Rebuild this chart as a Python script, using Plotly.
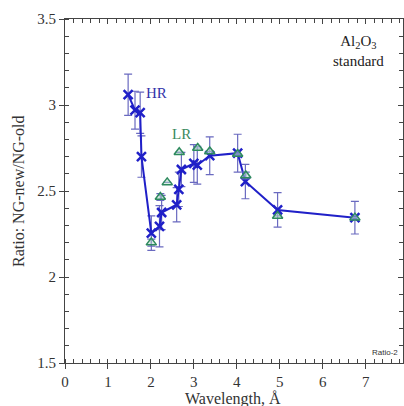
import plotly.graph_objects as go

hr_x = [1.47, 1.63, 1.75, 1.78, 2.01, 2.20, 2.25, 2.60, 2.65, 2.71, 3.00, 3.08, 3.37, 4.02, 4.20, 4.95, 6.75]
hr_y = [3.06, 2.97, 2.955, 2.70, 2.255, 2.295, 2.375, 2.42, 2.51, 2.625, 2.66, 2.65, 2.705, 2.72, 2.555, 2.39, 2.345]
hr_err = [0.12, 0.11, 0.12, 0.12, 0.10, 0.12, 0.10, 0.10, 0.10, 0.10, 0.11, 0.11, 0.11, 0.11, 0.10, 0.10, 0.095]

lr_x = [2.01, 2.22, 2.38, 2.66, 3.09, 3.37, 4.02, 4.21, 4.95, 6.75]
lr_y = [2.20, 2.465, 2.55, 2.725, 2.75, 2.73, 2.715, 2.59, 2.355, 2.345]
lr_err = [0.02, 0.02, 0.0, 0.0, 0.0, 0.0, 0.0, 0.02, 0.0, 0.0]

x_ticks = [0, 1, 2, 3, 4, 5, 6, 7]
y_ticks = [1.5, 2, 2.5, 3, 3.5]
y_tick_labels = ["1.5", "2", "2.5", "3", "3.5"]

serif = "Liberation Serif"
err_color = "#6a6ac0"

fig = go.Figure()
fig.add_trace(go.Scatter(
    x=hr_x, y=hr_y, mode="lines+markers",
    line=dict(color="#2020c8", width=2),
    marker=dict(symbol="x-thin-open", size=9, color="#2020c8", line=dict(width=2.5, color="#2020c8")),
    error_y=dict(type="data", array=hr_err, color=err_color, thickness=1.2, width=4),
    showlegend=False,
))
fig.add_trace(go.Scatter(
    x=lr_x, y=lr_y, mode="markers",
    marker=dict(symbol="triangle-up", size=9, color="rgba(180,220,200,0.5)", line=dict(width=1.5, color="#2e8a5e")),
    error_y=dict(type="data", array=lr_err, color=err_color, thickness=1.2, width=4),
    showlegend=False,
))
# invisible trace for top/right mirrored inside ticks
fig.add_trace(go.Scatter(x=[0], y=[1.5], xaxis="x2", yaxis="y2", mode="markers",
                         marker=dict(opacity=0), showlegend=False, hoverinfo="skip"))

xr = [0, 7.87]
yr = [1.5, 3.5]
axis_common = dict(showgrid=False, zeroline=False, showline=True, linecolor="#444", linewidth=1.2)

fig.update_layout(
    width=404, height=406,
    margin=dict(l=65, r=1, t=19, b=43),
    paper_bgcolor="white", plot_bgcolor="white",
    font=dict(family=serif, color="#333", size=14),
    xaxis=dict(range=xr, tickvals=x_ticks, ticks="outside", ticklen=5, tickcolor="#444",
               tickfont=dict(family=serif, size=15, color="#333"),
               minor=dict(dtick=0.2, ticks="inside", ticklen=4, tickcolor="#444"),
               **axis_common),
    yaxis=dict(range=yr, tickvals=y_ticks, ticktext=y_tick_labels, ticks="outside", ticklen=5,
               tickcolor="#444", tickfont=dict(family=serif, size=15, color="#333"),
               minor=dict(dtick=0.1, ticks="inside", ticklen=4, tickcolor="#444"),
               **axis_common),
    xaxis2=dict(range=xr, overlaying="x", side="top", tickvals=x_ticks, ticks="inside", ticklen=5,
                tickcolor="#444", showticklabels=False,
                minor=dict(dtick=0.2, ticks="inside", ticklen=4, tickcolor="#444"),
                **axis_common),
    yaxis2=dict(range=yr, overlaying="y", side="right", tickvals=y_ticks, ticks="inside", ticklen=5,
                tickcolor="#444", showticklabels=False,
                minor=dict(dtick=0.1, ticks="inside", ticklen=4, tickcolor="#444"),
                **axis_common),
    annotations=[
        dict(text="Ratio: NG-new/NG-old", xref="paper", yref="paper", x=-0.139, y=0.5,
             textangle=-90, showarrow=False, font=dict(family=serif, size=16, color="#333"),
             xanchor="center", yanchor="middle"),
        dict(text="Wavelength, Å", xref="paper", yref="paper", x=0.497, y=-0.074,
             showarrow=False, font=dict(family=serif, size=16, color="#333"),
             xanchor="center", yanchor="top"),
        dict(text="HR", x=1.85, y=3.07, xref="x", yref="y", showarrow=False,
             font=dict(family=serif, size=15, color="#3333aa"), xanchor="left"),
        dict(text="LR", x=2.45, y=2.83, xref="x", yref="y", showarrow=False,
             font=dict(family=serif, size=15, color="#3a8a5e"), xanchor="left"),
        dict(text="Al<sub>2</sub>O<sub>3</sub><br>standard", x=0.867, y=0.965, xref="paper", yref="paper",
             showarrow=False, align="center", xanchor="center", yanchor="top",
             font=dict(family=serif, size=15, color="#222")),
        dict(text="Ratio-2", x=0.99, y=0.012, xref="paper", yref="paper", showarrow=False,
             xanchor="right", yanchor="bottom",
             font=dict(family="Liberation Sans", size=8, color="#333")),
    ],
)

fig.write_html("out.html")
